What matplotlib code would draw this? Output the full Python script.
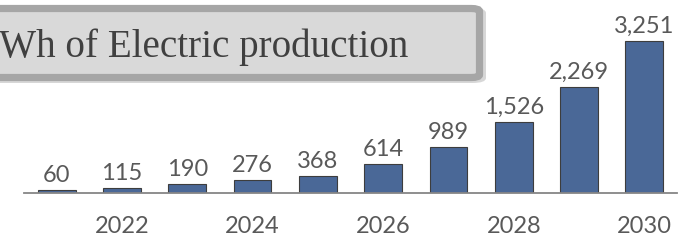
import matplotlib.pyplot as plt
from matplotlib.patches import FancyBboxPatch

# === DATA ===
years = [2021, 2022, 2023, 2024, 2025, 2026, 2027, 2028, 2029, 2030]
production = [60, 115, 190, 276, 368, 614, 989, 1526, 2269, 3251]
tick_years = [2022, 2024, 2026, 2028, 2030]
title_text = "Wh of Electric production"

W, H = 692, 246


def fx(x):
    return x / W


def fy(y):
    # y measured from top in pixels
    return 1 - y / H


fig = plt.figure(figsize=(W / 100, H / 100), dpi=100)
ax = fig.add_axes([fx(24), fy(193), fx(653), 193 / H])

ax.bar(years, production, width=0.58, color='#4a6897', edgecolor='#3d3d3d', linewidth=0.8, zorder=2)
for x, v in zip(years, production):
    ax.annotate(f"{v:,}", (x, v), xytext=(0, 5.8), textcoords='offset points',
                ha='center', va='baseline', fontsize=17, family='Lato', color='#595959')

ax.set_xlim(2020.5, 2030.5)
ax.set_ylim(0, 4127)
ax.set_xticks(tick_years)
ax.set_xticklabels([str(y) for y in tick_years], fontsize=17, family='Lato', color='#595959')
ax.tick_params(axis='x', length=0, pad=16.5)
ax.set_yticks([])
for s in ['top', 'left', 'right']:
    ax.spines[s].set_visible(False)
ax.spines['bottom'].set_color('#868686')
ax.spines['bottom'].set_linewidth(1.3)
ax.patch.set_alpha(0)

# title box with shadow
shadow = FancyBboxPatch((fx(-20), fy(83)), fx(506), fy(8) - fy(83),
                        boxstyle='round,pad=0,rounding_size=0.02', transform=fig.transFigure,
                        facecolor='#bdbdbd', edgecolor='none', alpha=0.6, zorder=1)
box = FancyBboxPatch((fx(-20), fy(77.5)), fx(499.5), fy(8.5) - fy(77.5),
                     boxstyle='round,pad=0,rounding_size=0.012', transform=fig.transFigure,
                     facecolor='#d9d9d9', edgecolor='#a6a6a6', linewidth=5.2, zorder=2)
fig.patches.extend([shadow, box])
fig.text(fx(-1), fy(57), title_text, family='Liberation Serif', fontsize=28.2,
         color='#404040', ha='left', va='baseline', zorder=3)

fig.savefig('out.png', dpi=100)
